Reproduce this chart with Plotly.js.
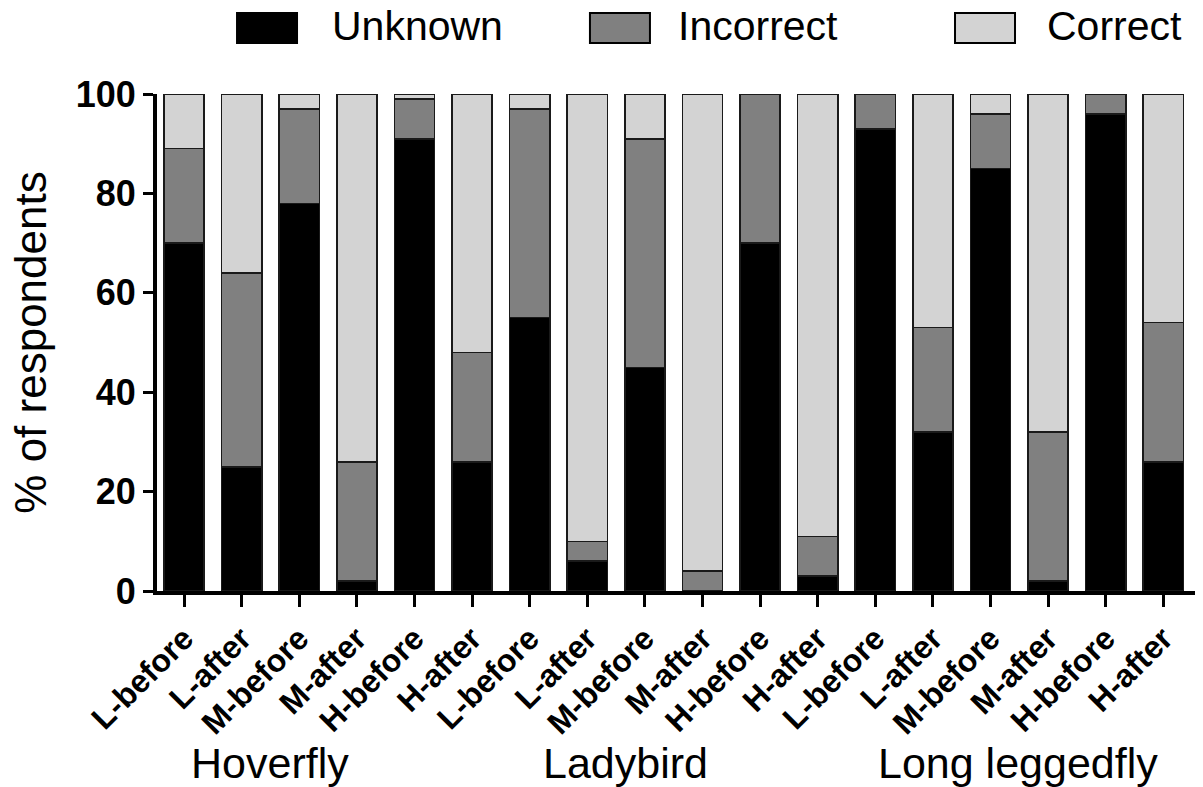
<!DOCTYPE html>
<html>
<head>
<meta charset="utf-8">
<script src="https://cdn.plot.ly/plotly-3.0.1.min.js"></script>
<style>html,body{margin:0;padding:0;background:#fff;}#chart{width:1203px;height:787px;}</style>
</head>
<body>
<div id="chart"></div>
<script>
// ---- data ----
const categories = ["L-before","L-after","M-before","M-after","H-before","H-after",
                    "L-before","L-after","M-before","M-after","H-before","H-after",
                    "L-before","L-after","M-before","M-after","H-before","H-after"];
const groups = ["Hoverfly","Ladybird","Long leggedfly"];
const seriesNames = ["Unknown","Incorrect","Correct"];
const unknown   = [70,25,78, 2,91,26, 55, 6,45, 0,70, 3, 93,32,85, 2,96,26];
const incorrect = [19,39,19,24, 8,22, 42, 4,46, 4,30, 8,  7,21,11,30, 4,28];
const correct   = [11,36, 3,74, 1,52,  3,90, 9,96, 0,89,  0,47, 4,68, 0,46];
const yTicks = [0,20,40,60,80,100];
const seriesColors = ["#000000","#808080","#d3d3d3"];

const xIdx = categories.map((c,i)=>i);
const values = [unknown, incorrect, correct];
const FONT = "Liberation Sans, Arial, sans-serif";

const traces = values.map((v,k)=>({
  type:"bar",
  name: seriesNames[k],
  x: xIdx,
  y: v,
  marker:{color: seriesColors[k], line:{color:"#1a1a1a", width:1.6}},
  showlegend:false,
  hoverinfo:"name+y"
}));

// custom legend (large swatches like the reference)
const legX = [0.0771, 0.4171, 0.7688];
const legTextX = [0.1667, 0.5, 0.8555];
const shapes = seriesNames.map((n,k)=>({
  type:"rect", xref:"paper", yref:"paper",
  x0: legX[k], x1: legX[k]+0.0578, y0:1.1026, y1:1.163,
  fillcolor: seriesColors[k], line:{color:"#000", width:2}
}));
const annotations = seriesNames.map((n,k)=>({
  text:n, xref:"paper", yref:"paper", x:legTextX[k], y:1.136,
  xanchor:"left", yanchor:"middle", showarrow:false,
  font:{family:FONT, size:41, color:"#000"}
}));
const groupX = [1.49, 7.66, 14.48];
groups.forEach((g,k)=>annotations.push({
  text:g, xref:"x", yref:"paper", x:groupX[k], y:-0.346,
  xanchor:"center", yanchor:"middle", showarrow:false,
  font:{family:FONT, size:43, color:"#000"}
}));

const layout = {
  width:1203, height:787,
  margin:{l:157, r:8, t:94, b:196},
  paper_bgcolor:"#fff", plot_bgcolor:"#fff",
  barmode:"stack", bargap:0.3,
  font:{family:FONT, color:"#000"},
  xaxis:{
    tickmode:"array", tickvals:xIdx, ticktext:categories,
    range:[-0.47, 17.55], tickangle:-45,
    tickfont:{family:FONT, size:32, weight:"bold", color:"#000"},
    ticks:"outside", ticklen:12, tickwidth:3, tickcolor:"#000",
    showline:true, linewidth:4, linecolor:"#000",
    showgrid:false, zeroline:false, fixedrange:true
  },
  yaxis:{
    range:[0,100], tickmode:"array", tickvals:yTicks,
    tickfont:{family:FONT, size:36, weight:"bold", color:"#000"},
    ticks:"outside", ticklen:10, tickwidth:3, tickcolor:"#000",
    showline:true, linewidth:4, linecolor:"#000",
    showgrid:false, zeroline:false,
    title:{text:"% of respondents", font:{family:FONT, size:44, color:"#000"}, standoff:16}
  },
  shapes: shapes,
  annotations: annotations
};

Plotly.newPlot("chart", traces, layout, {displayModeBar:false, staticPlot:true});
</script>
</body>
</html>
